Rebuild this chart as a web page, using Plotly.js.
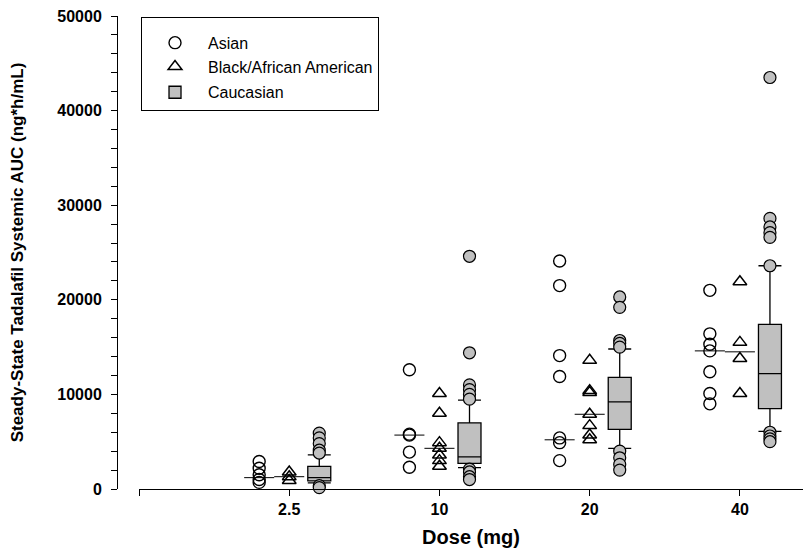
<!DOCTYPE html>
<html><head><meta charset="utf-8">
<script src="https://cdn.plot.ly/plotly-3.0.1.min.js"></script>
<style>html,body{margin:0;padding:0;background:#fff}#chart{width:804px;height:558px}</style>
</head><body><div id="chart"></div>
<script>
// ---- data (ng*h/mL) ----
const doses = ['2.5', '10', '20', '40'];
const asian = [
  [2900, 2200, 1500, 1000, 700],
  [12600, 5800, 5700, 3900, 2300],
  [24100, 21500, 14100, 11900, 5400, 4900, 3000],
  [21000, 16400, 15300, 14600, 12400, 10100, 9000]
];
const asianMedian = [1200, 5700, 5200, 14600];
const black = [
  [1800, 1300, 900],
  [10100, 8000, 4900, 4300, 3600, 3000, 2400],
  [13600, 10400, 10200, 7900, 6700, 5700, 5200],
  [21900, 15500, 13800, 10100]
];
const blackMedian = [1300, 4300, 7900, 14500];
const cauQ1 = [850, 2700, 6300, 8500];
const cauMedian = [1200, 3400, 9200, 12200];
const cauQ3 = [2400, 7000, 11800, 17400];
const cauLower = [650, 2250, 4300, 6100];
const cauUpper = [3600, 9400, 14800, 23600];
const cauOutliers = [
  [5900, 5400, 4800, 4100, 3800, 350, 150],
  [24600, 14400, 11000, 10500, 10000, 9500, 2100, 1800, 1300, 1000],
  [20300, 19200, 15700, 15400, 15000, 4000, 3300, 2600, 2000],
  [43500, 28600, 27700, 27100, 26600, 23600, 6000, 5600, 5300, 5000]
];

// ---- build traces ----
const FONT = 'Liberation Sans, Arial, sans-serif';
const off = {asian: -0.2, black: 0, cau: 0.2};
const half = 0.1;

function pts(groups, dx) {
  const x = [], y = [];
  groups.forEach((g, i) => g.forEach(v => { x.push(i + 1 + dx); y.push(v); }));
  return {x, y};
}
function medLines(meds, dx) {
  const x = [], y = [];
  meds.forEach((m, i) => { x.push(i + 1 + dx - half, i + 1 + dx + half, null); y.push(m, m, null); });
  return {x, y};
}

const a = pts(asian, off.asian), b = pts(black, off.black), o = pts(cauOutliers, off.cau);
const am = medLines(asianMedian, off.asian), bm = medLines(blackMedian, off.black);

const traces = [
  {type: 'scatter', mode: 'lines', x: am.x, y: am.y, line: {color: '#000', width: 1}, showlegend: false, hoverinfo: 'skip', cliponaxis: false},
  {type: 'scatter', mode: 'lines', x: bm.x, y: bm.y, line: {color: '#000', width: 1}, showlegend: false, hoverinfo: 'skip', cliponaxis: false},
  {type: 'scatter', mode: 'markers', name: 'Asian', legendgroup: 'g1', x: a.x, y: a.y, cliponaxis: false,
   marker: {symbol: 'circle-open', size: 12, color: '#000', line: {width: 1.4}}},
  {type: 'scatter', mode: 'markers', name: 'Black/African American', legendgroup: 'g1', x: b.x, y: b.y, cliponaxis: false,
   marker: {symbol: 'triangle-up-open', size: 12, color: '#000', line: {width: 1.5}}},
  {type: 'box', name: 'Caucasian', legendgroup: 'g2',
   x: doses.map((d, i) => i + 1 + off.cau),
   q1: cauQ1, median: cauMedian, q3: cauQ3, lowerfence: cauLower, upperfence: cauUpper,
   width: 0.153, whiskerwidth: 1, fillcolor: '#c0c0c0', line: {color: '#000', width: 1.3}, boxpoints: false},
  {type: 'scatter', mode: 'markers', x: o.x, y: o.y, showlegend: false, cliponaxis: false,
   marker: {symbol: 'circle', size: 12, color: '#c0c0c0', line: {color: '#000', width: 1.2}}}
];

const layout = {
  width: 804, height: 558,
  margin: {l: 117, r: 1, t: 16, b: 69},
  paper_bgcolor: '#fff', plot_bgcolor: '#fff',
  font: {family: FONT, color: '#000'},
  showlegend: true,
  legend: {x: 0.035, y: 0.998, xanchor: 'left', yanchor: 'top', bgcolor: '#fff',
           bordercolor: '#000', borderwidth: 1, font: {family: FONT, size: 16, color: '#000'},
           title: {text: '\u00a0', font: {family: FONT, size: 6}},
           itemwidth: 56, tracegroupgap: 2, traceorder: 'grouped'},
  xaxis: {domain: [22 / 686, 1], range: [0, 4.42], tickvals: [0, 1, 2, 3, 4], ticktext: [''].concat(doses),
          ticks: 'outside', ticklen: 6, tickcolor: '#000', showline: true, linecolor: '#000', linewidth: 1,
          showgrid: false, zeroline: false,
          tickfont: {family: FONT, size: 16, weight: 'bold', color: '#000'},
          title: {text: 'Dose (mg)', font: {family: FONT, size: 20, weight: 'bold', color: '#000'}, standoff: 12}},
  yaxis: {range: [0, 50000], anchor: 'free', position: 0, dtick: 10000, tickformat: 'd',
          ticks: 'outside', ticklen: 6, tickcolor: '#000', showline: true, linecolor: '#000', linewidth: 1,
          minor: {dtick: 2000, ticks: 'outside', ticklen: 6, tickcolor: '#000'},
          showgrid: false, zeroline: false, ticklabelstandoff: 6,
          tickfont: {family: FONT, size: 16, weight: 'bold', color: '#000'},
          title: {text: 'Steady-State Tadalafil Systemic AUC (ng*h/mL)', font: {family: FONT, size: 17, weight: 'bold', color: '#000'}, standoff: 28}}
};

Plotly.newPlot('chart', traces, layout, {staticPlot: true, displayModeBar: false});
</script>
</body></html>
